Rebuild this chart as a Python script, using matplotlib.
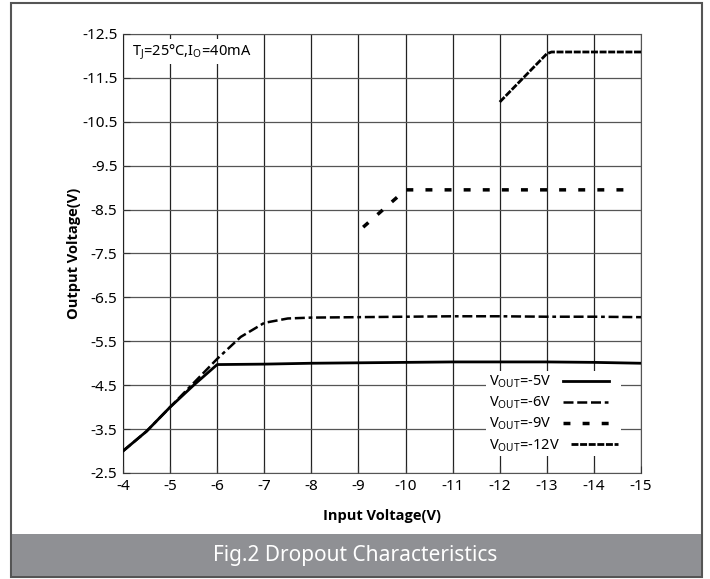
import matplotlib.pyplot as plt
from matplotlib.patches import Rectangle

plt.rcParams['font.family'] = ['Noto Sans', 'DejaVu Sans']

# data (input V, output V)
vin_5 = [-4.0, -4.5, -5.0, -5.5, -6.0, -7.0, -8.0, -9.0, -10.0, -11.0, -12.0, -13.0, -14.0, -15.0]
vout_5 = [-3.0, -3.45, -4.0, -4.5, -4.97, -4.98, -5.0, -5.01, -5.02, -5.03, -5.03, -5.03, -5.02, -5.0]

vin_6 = [-4.0, -4.5, -5.0, -5.5, -6.0, -6.5, -7.0, -7.5, -8.0, -9.0, -10.0, -11.0, -12.0, -13.0, -14.0, -15.0]
vout_6 = [-3.0, -3.45, -4.0, -4.55, -5.1, -5.6, -5.92, -6.02, -6.04, -6.05, -6.06, -6.07, -6.07, -6.06, -6.06, -6.05]

vin_9 = [-9.1, -10.0, -11.0, -12.0, -13.0, -14.0, -14.85]
vout_9 = [-8.1, -8.95, -8.95, -8.95, -8.95, -8.95, -8.95]

vin_12 = [-12.0, -13.0, -13.1, -14.0, -15.0]
vout_12 = [-10.95, -12.05, -12.09, -12.09, -12.09]

labels = ['V$_\\mathregular{OUT}$=-5V', 'V$_\\mathregular{OUT}$=-6V',
          'V$_\\mathregular{OUT}$=-9V', 'V$_\\mathregular{OUT}$=-12V']

xticks = [-4, -5, -6, -7, -8, -9, -10, -11, -12, -13, -14, -15]
yticks = [-2.5, -3.5, -4.5, -5.5, -6.5, -7.5, -8.5, -9.5, -10.5, -11.5, -12.5]

fig = plt.figure(figsize=(7.1, 5.79), dpi=100)

# outer frame and caption bar
fig.patches.append(Rectangle((11 / 710, 2 / 579), 691 / 710, 574 / 579, transform=fig.transFigure,
                             fill=False, edgecolor='#555555', linewidth=1.5))
fig.patches.append(Rectangle((12 / 710, 3 / 579), 689 / 710, 42 / 579, transform=fig.transFigure,
                             facecolor='#8f9094', edgecolor='none'))
fig.text(0.5, 24 / 579, 'Fig.2 Dropout Characteristics', color='white', fontsize=15,
         ha='center', va='center')

ax = fig.add_axes([123 / 710, 106 / 579, 518 / 710, 439 / 579])
ax.set_xlim(-4, -15)
ax.set_ylim(-2.5, -12.5)
ax.set_xticks(xticks)
ax.set_yticks(yticks)
ax.set_xticklabels([str(v) for v in xticks])
ax.set_yticklabels([str(v) for v in yticks])
ax.tick_params(direction='in', length=5, color='#333333', labelsize=11, pad=4)
ax.xaxis.grid(True, color='#222222', linewidth=0.9)
ax.yaxis.grid(True, color='#555555', linewidth=0.9)
ax.set_axisbelow(False)
for s in ax.spines.values():
    s.set_color('#555555')

l5, = ax.plot(vin_5, vout_5, color='black', lw=2.0, label=labels[0], zorder=5)
l6, = ax.plot(vin_6, vout_6, color='black', lw=1.8, dashes=(4, 1.5, 4, 1.5, 4, 1.5, 1.5, 1.5), label=labels[1], zorder=4)
l9, = ax.plot(vin_9, vout_9, color='black', lw=2.5, dashes=(2, 3.5), label=labels[2], zorder=4)
l12, = ax.plot(vin_12, vout_12, color='black', lw=2.0, dashes=(2.5, 0.6), label=labels[3], zorder=4)

ax.text(-4.2, -12.1, 'T$_\\mathregular{J}$=25°C,I$_\\mathregular{O}$=40mA', fontsize=10.5,
        ha='left', va='center', zorder=6,
        bbox=dict(facecolor='white', edgecolor='none', pad=2))

leg = ax.legend(loc='lower right', bbox_to_anchor=(0.975, 0.021), frameon=True, fancybox=False,
                edgecolor='none', framealpha=1, markerfirst=False, fontsize=10.5,
                handlelength=3.2, labelspacing=0.3, borderpad=0.2, handletextpad=0.8)
leg.set_zorder(6)
# labels left aligned like the original
for col in leg._legend_handle_box.get_children():
    col.align = 'left'

ax.set_xlabel('Input Voltage(V)', fontsize=10.5, fontweight='bold', family='Open Sans')
ax.set_ylabel('Output Voltage(V)', fontsize=10.5, fontweight='bold', family='Open Sans')
ax.xaxis.set_label_coords(0.5, -0.082)
ax.yaxis.set_label_coords(-0.081, 0.5)

fig.savefig('out.png', dpi=100)
